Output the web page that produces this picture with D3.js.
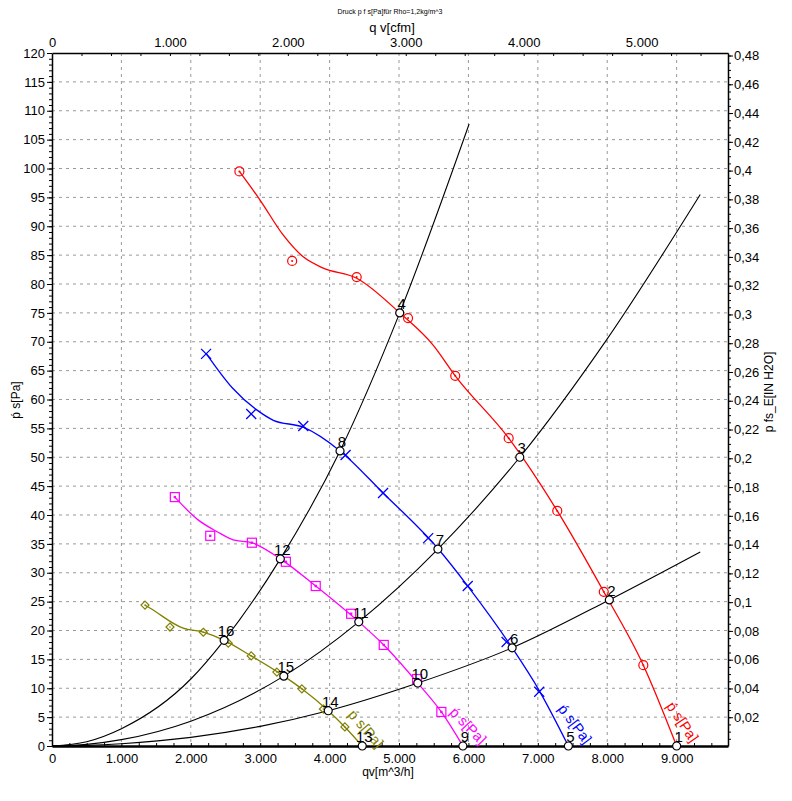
<!DOCTYPE html>
<html>
<head>
<meta charset="utf-8">
<script src="https://cdn.jsdelivr.net/npm/d3@7"></script>
<style>
body { margin: 0; background: #fff; }
text { font-family: "Liberation Sans", Arial, sans-serif; }
</style>
</head>
<body>
<div id="chart"></div>
<script>
var redCurve = [[2700,99.5],[3000,94.5],[3330,88.5],[3620,84.7],[3900,82.8],[4390,81],[5010,75],[5500,69.3],[5810,64.1],[6580,53.3],[7280,40.7],[7950,26.7],[8520,14],[9000,0]]
var redMarks = [[2700,99.5],[3460,84],[4390,81.2],[5130,74.1],[5810,64.1],[6580,53.3],[7280,40.7],[7950,26.7],[8520,14]]
var blueCurve = [[2220,68],[2600,62],[2950,58.2],[3190,56.4],[3620,55.2],[4150,51.1],[4770,43.8],[5560,34.2],[5990,27.7],[6630,17],[7020,9.6],[7440,0]]
var blueMarks = [[2220,67.9],[2870,57.5],[3620,55.4],[4230,50.4],[4770,43.8],[5420,36],[5990,27.7],[6550,18],[7020,9.4]]
var magentaCurve = [[1770,43.1],[2100,39.2],[2380,37.1],[2610,35.7],[2880,35.2],[3290,32.4],[3800,27.7],[4420,21.5],[4780,17.5],[5270,10.9],[5610,5.9],[5920,0]]
var magentaMarks = [[1770,43.1],[2280,36.4],[2880,35.2],[3370,31.9],[3800,27.7],[4310,22.9],[4780,17.5],[5260,11.6],[5610,5.9]]
var oliveCurve = [[1340,24.4],[1410,23.9],[1890,20.4],[2180,19.7],[2480,18.3],[2870,15.6],[3340,12.1],[3600,9.9],[3980,6.1],[4220,3.3],[4470,0]]
var oliveMarks = [[1340,24.4],[1700,20.6],[2180,19.7],[2540,17.8],[2870,15.6],[3240,12.8],[3600,9.9],[3910,6.4],[4220,3.3]]

// system curves
var sysA = [[0,0],[500,0.75],[1000,3],[2000,11.6],[2480,18.3],[3290,32.4],[4150,51.1],[5010,75],[6010,107.7]]
var sysB = [[0,0],[500,0.28],[1000,1.1],[2000,4.3],[3340,12.1],[4420,21.5],[5560,34.1],[6740,50],[8000,70.5],[9340,95.5]]
var sysC = [[0,0],[500,0.1],[1000,0.4],[2000,1.5],[3000,3.4],[3980,6.1],[5270,10.9],[6630,17],[8030,25.3],[9340,33.6]]

// operating points: [label, q, p]
var opPoints = [["1",9000,0],["2",8030,25.3],["3",6740,50],["4",5010,75],
  ["5",7440,0],["6",6630,17],["7",5560,34.1],["8",4150,51.1],
  ["9",5920,0],["10",5270,10.9],["11",4420,21.5],["12",3290,32.4],
  ["13",4470,0],["14",3980,6.1],["15",3340,12.1],["16",2480,18.3]]

var qTicks = [0,1000,2000,3000,4000,5000,6000,7000,8000,9000]
var cfmTicks = [0,1000,2000,3000,4000,5000]
var paTicks = d3.range(0, 121, 5)
var inTicks = d3.range(0.02, 0.481, 0.02)

var W = 792, H = 801
var L = 52, R = 728, T = 53, B = 746
var qMax = 9740

var loc = d3.formatLocale({decimal: ",", thousands: ".", grouping: [3], currency: ["", ""]})
var fmtQ = loc.format(",.0f")
var fmtIn = loc.format(".2~f")

var svg = d3.select("#chart").append("svg").attr("width", W).attr("height", H)

var x = d3.scaleLinear().domain([0, qMax]).range([L, R])
var xc = d3.scaleLinear().domain([0, qMax / 1.699]).range([L, R])
var y = d3.scaleLinear().domain([0, 120]).range([B, T])
var yi = d3.scaleLinear().domain([0, 120 / 249.09]).range([B, T])

// grid
svg.append("g").selectAll("line").data(qTicks.slice(1)).enter().append("line")
  .attr("x1", d => x(d)).attr("x2", d => x(d)).attr("y1", T).attr("y2", B)
  .attr("stroke", "#999").attr("stroke-dasharray", "3,4")
svg.append("g").selectAll("line").data(paTicks.slice(1, -1)).enter().append("line")
  .attr("x1", L).attr("x2", R).attr("y1", d => y(d)).attr("y2", d => y(d))
  .attr("stroke", "#999").attr("stroke-dasharray", "3,4")

// axes
var styleAxis = function (g) {
  g.selectAll("text").attr("font-size", 13).attr("fill", "#000").style("font-family", "Liberation Sans, Arial")
  g.select(".domain").attr("stroke", "#000").attr("stroke-width", 1.5)
}
svg.append("g").attr("transform", "translate(" + L + ",0)")
  .call(d3.axisLeft(y).tickValues(d3.range(0, 121, 1)).tickSize(3).tickFormat(""))
  .call(g => g.select(".domain").remove())
svg.append("g").attr("transform", "translate(" + L + ",0)")
  .call(d3.axisLeft(y).tickValues(paTicks).tickSize(5).tickSizeOuter(0).tickPadding(2))
  .call(styleAxis)

svg.append("g").attr("transform", "translate(" + R + ",0)")
  .call(d3.axisRight(yi).tickValues(d3.range(0.005, 0.481, 0.005)).tickSize(3).tickFormat(""))
  .call(g => g.select(".domain").remove())
svg.append("g").attr("transform", "translate(" + R + ",0)")
  .call(d3.axisRight(yi).tickValues(inTicks).tickSize(5).tickSizeOuter(0).tickPadding(1).tickFormat(fmtIn))
  .call(styleAxis)

svg.append("g").attr("transform", "translate(0," + B + ")")
  .call(d3.axisBottom(x).tickValues(d3.range(250, qMax, 250)).tickSize(-3).tickFormat(""))
  .call(g => g.select(".domain").remove())
svg.append("g").attr("transform", "translate(0," + B + ")")
  .call(d3.axisBottom(x).tickValues(qTicks).tickSize(0).tickSizeOuter(0).tickPadding(8).tickFormat(fmtQ))
  .call(styleAxis)
  .call(g => g.select(".domain").attr("stroke-width", 2.5))

svg.append("g").attr("transform", "translate(0," + T + ")")
  .call(d3.axisTop(xc).tickValues(d3.range(250, qMax / 1.699, 250)).tickSize(-3).tickFormat(""))
  .call(g => g.select(".domain").remove())
svg.append("g").attr("transform", "translate(0," + T + ")")
  .call(d3.axisTop(xc).tickValues(cfmTicks).tickSize(0).tickSizeOuter(0).tickPadding(6).tickFormat(fmtQ))
  .call(styleAxis)

// titles
svg.append("text").attr("x", 390).attr("y", 14).attr("text-anchor", "middle")
  .attr("font-size", 7).text("Druck p f s[Pa]für Rho=1,2kg/m^3")
svg.append("text").attr("x", 392).attr("y", 32).attr("text-anchor", "middle")
  .attr("font-size", 13).text("q v[cfm]")
svg.append("text").attr("x", 388).attr("y", 776).attr("text-anchor", "middle")
  .attr("font-size", 12).text("qv[m^3/h]")
svg.append("text").attr("transform", "translate(20,400) rotate(-90)").attr("text-anchor", "middle")
  .attr("font-size", 12).text("ṕ s[Pa]")
svg.append("text").attr("transform", "translate(773,392) rotate(-90)").attr("text-anchor", "middle")
  .attr("font-size", 12).text("p fs_E[IN H2O]")

var line = d3.line().x(d => x(d[0])).y(d => y(d[1])).curve(d3.curveMonotoneX)

// system curves
;[sysA, sysB, sysC].forEach(s => {
  svg.append("path").attr("d", line(s)).attr("fill", "none").attr("stroke", "#000").attr("stroke-width", 1.1)
})

var fans = [
  {curve: redCurve, marks: redMarks, color: "#ff0000", sym: "circle", ang: 56, dx: -11, dy: -40},
  {curve: blueCurve, marks: blueMarks, color: "#0000ff", sym: "cross", ang: 53, dx: -11, dy: -37},
  {curve: magentaCurve, marks: magentaMarks, color: "#ff00ff", sym: "square", ang: 46, dx: -14, dy: -33},
  {curve: oliveCurve, marks: oliveMarks, color: "#808000", sym: "diamond", ang: 49, dx: -15, dy: -31}
]

fans.forEach(f => {
  svg.append("path").attr("d", line(f.curve)).attr("fill", "none").attr("stroke", f.color).attr("stroke-width", 1.3)
  var m = svg.append("g").selectAll("g").data(f.marks).enter().append("g")
    .attr("transform", d => "translate(" + x(d[0]) + "," + y(d[1]) + ")")
  if (f.sym == "circle") {
    m.append("circle").attr("r", 4.5).attr("fill", "none").attr("stroke", f.color).attr("stroke-width", 1.2)
    m.append("circle").attr("r", 1).attr("fill", f.color)
  } else if (f.sym == "square") {
    m.append("rect").attr("x", -4.5).attr("y", -4.5).attr("width", 9).attr("height", 9)
      .attr("fill", "none").attr("stroke", f.color).attr("stroke-width", 1.2)
    m.append("rect").attr("x", -1.2).attr("y", -1.2).attr("width", 2.4).attr("height", 2.4).attr("fill", f.color)
  } else if (f.sym == "diamond") {
    m.append("path").attr("d", "M0,-4L4,0L0,4L-4,0Z").attr("fill", "none").attr("stroke", f.color).attr("stroke-width", 1.2)
    m.append("circle").attr("r", 0.8).attr("fill", f.color)
  } else {
    m.append("path").attr("d", "M-5,-5L5,5M-5,5L5,-5").attr("stroke", f.color).attr("stroke-width", 1.3)
  }
  var end = f.curve[f.curve.length - 1]
  svg.append("text")
    .attr("transform", "translate(" + (x(end[0]) + f.dx) + "," + (y(end[1]) + f.dy) + ") rotate(" + f.ang + ")")
    .attr("font-size", 14.5).attr("fill", f.color).text("ṕ s[Pa]")
})

// operating points
var op = svg.append("g").selectAll("g").data(opPoints).enter().append("g")
  .attr("transform", d => "translate(" + x(d[1]) + "," + y(d[2]) + ")")
op.append("circle").attr("r", 4).attr("fill", "#fff").attr("stroke", "#000").attr("stroke-width", 1.2)
op.append("text").attr("x", 2).attr("y", -4).attr("text-anchor", "middle").attr("font-size", 15)
  .attr("fill", "#000").text(d => d[0])
</script>
</body>
</html>
